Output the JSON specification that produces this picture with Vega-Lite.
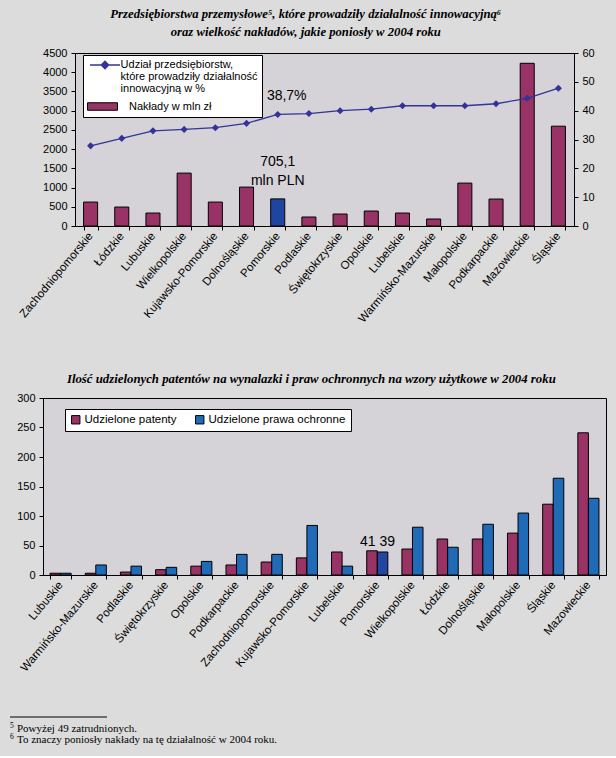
{
  "$schema": "https://vega.github.io/schema/vega-lite/v6.json",
  "background": "#dcdcdc",
  "padding": {"left": 9, "top": 7, "right": 10, "bottom": 8},
  "bounds": "flush",
  "center": true,
  "spacing": 172,
  "resolve": {"scale": {"color": "independent"}, "legend": {"color": "independent"}},
  "config": {
    "font": "Liberation Sans",
    "view": {"fill": "#d5d3d8", "stroke": "#000000", "strokeWidth": 1},
    "axis": {"labelFont": "Liberation Sans", "labelFontSize": 11, "labelColor": "#000000", "domainColor": "#000000", "tickColor": "#000000", "tickSize": 4, "labelPadding": 4, "grid": false, "title": null},
    "axisX": {"labelFontSize": 11.5, "labelAngle": -50},
    "title": {"font": "Liberation Serif", "fontStyle": "italic", "fontWeight": "bold", "fontSize": 12.7, "color": "#000000"},
    "legend": {"labelFont": "Liberation Sans", "labelColor": "#000000", "labelLimit": 400}
  },
  "vconcat": [
    {
      "title": {"text": ["Przedsiębiorstwa przemysłowe⁵, które prowadziły działalność innowacyjną⁶", "oraz wielkość nakładów, jakie poniosły w 2004 roku"], "lineHeight": 18, "frame": "bounds", "anchor": "middle", "offset": 8},
      "width": 499,
      "height": 173,
      "data": {"values": [
        {"region": "Zachodniopomorskie", "naklady": 623, "udzial": 27.8},
        {"region": "Łódzkie", "naklady": 493, "udzial": 30.4},
        {"region": "Lubuskie", "naklady": 337, "udzial": 33.0},
        {"region": "Wielkopolskie", "naklady": 1376, "udzial": 33.5},
        {"region": "Kujawsko-Pomorskie", "naklady": 623, "udzial": 34.1},
        {"region": "Dolnośląskie", "naklady": 1012, "udzial": 35.6},
        {"region": "Pomorskie", "naklady": 705.1, "udzial": 38.7, "barNote": "705,1|mln PLN", "lineNote": "38,7%"},
        {"region": "Podlaskie", "naklady": 234, "udzial": 39.0},
        {"region": "Świętokrzyskie", "naklady": 311, "udzial": 40.0},
        {"region": "Opolskie", "naklady": 389, "udzial": 40.5},
        {"region": "Lubelskie", "naklady": 337, "udzial": 41.7},
        {"region": "Warmińsko-Mazurskie", "naklady": 182, "udzial": 41.7},
        {"region": "Małopolskie", "naklady": 1116, "udzial": 41.7},
        {"region": "Podkarpackie", "naklady": 701, "udzial": 42.4},
        {"region": "Mazowieckie", "naklady": 4232, "udzial": 44.3},
        {"region": "Śląskie", "naklady": 2596, "udzial": 47.8}
      ]},
      "encoding": {
        "x": {"field": "region", "type": "nominal", "sort": null, "scale": {"paddingInner": 0.55, "paddingOuter": 0.275}, "axis": {"tickBand": "extent", "title": null}}
      },
      "layer": [
        {
          "mark": {"type": "bar", "stroke": "#000000", "strokeWidth": 1},
          "encoding": {
            "y": {"field": "naklady", "type": "quantitative", "scale": {"domain": [0, 4500]}, "axis": {"orient": "left", "format": "d", "values": [0, 500, 1000, 1500, 2000, 2500, 3000, 3500, 4000, 4500]}},
            "color": {
              "condition": {"test": "datum.region === 'Pomorskie'", "value": "#1e46a0"},
              "datum": "Nakłady w mln zł",
              "type": "nominal",
              "scale": {"domain": ["Nakłady w mln zł"], "range": ["#993366"]},
              "legend": {
                "orient": "none", "legendX": 8, "legendY": 2,
                "title": ["\u200b\u00a0\u00a0\u00a0\u00a0\u00a0\u00a0\u00a0\u00a0\u00a0\u00a0\u00a0Udział przedsiębiorstw,", "\u200b\u00a0\u00a0\u00a0\u00a0\u00a0\u00a0\u00a0\u00a0\u00a0\u00a0\u00a0które prowadziły działalność", "\u200b\u00a0\u00a0\u00a0\u00a0\u00a0\u00a0\u00a0\u00a0\u00a0\u00a0\u00a0innowacyjną w %"],
                "titleFont": "Liberation Sans", "titleFontWeight": "normal", "titleFontSize": 11, "titleColor": "#000000",
                "titleLineHeight": 12, "titleBaseline": "top", "titleAlign": "left", "titleAnchor": "start", "titleLimit": 400, "titlePadding": 7,
                "fillColor": "#ffffff", "strokeColor": "#000000", "padding": 4, "cornerRadius": 0,
                "labelFontSize": 11, "symbolSize": 100, "symbolOffset": 10, "labelOffset": 21,
                "symbolType": "M-3,-0.75H3V0.75H-3Z",
                "symbolStrokeColor": "#000000", "symbolStrokeWidth": 1, "symbolOpacity": 1
              }
            }
          }
        },
        {
          "transform": [{"filter": "isValid(datum.barNote)"}],
          "mark": {"type": "text", "fontSize": 14, "baseline": "bottom", "dy": -30, "lineBreak": "|", "lineHeight": 19, "color": "#000000"},
          "encoding": {
            "y": {"field": "naklady", "type": "quantitative", "scale": {"domain": [0, 4500]}, "axis": null},
            "text": {"field": "barNote"}
          }
        },
        {
          "mark": {"type": "line", "strokeWidth": 1.3, "point": {"shape": "diamond", "size": 50, "filled": true}},
          "encoding": {
            "y": {"field": "udzial", "type": "quantitative", "scale": {"domain": [0, 60]}, "axis": {"orient": "right", "values": [0, 10, 20, 30, 40, 50, 60]}},
            "color": {
              "datum": "Udział przedsiębiorstw, które prowadziły działalność innowacyjną w %",
              "type": "nominal",
              "scale": {"domain": ["Udział przedsiębiorstw, które prowadziły działalność innowacyjną w %"], "range": ["#333399"]},
              "legend": {
                "orient": "none", "legendX": 14, "legendY": 6, "title": null,
                "padding": 0, "labelExpr": "''", "labelFontSize": 11, "labelOffset": 0,
                "symbolType": "M-3,0H3M-0.75,0L0,-0.75L0.75,0L0,0.75Z", "symbolSize": 100, "symbolOffset": 10,
                "symbolStrokeColor": "#333399", "symbolFillColor": "#333399", "symbolStrokeWidth": 1.3, "symbolOpacity": 1
              }
            }
          }
        },
        {
          "transform": [{"filter": "isValid(datum.lineNote)"}],
          "mark": {"type": "text", "fontSize": 14, "baseline": "middle", "dy": -18, "dx": 9, "color": "#000000"},
          "encoding": {
            "y": {"field": "udzial", "type": "quantitative", "scale": {"domain": [0, 60]}, "axis": null},
            "text": {"field": "lineNote"}
          }
        }
      ],
      "resolve": {"scale": {"y": "independent", "color": "independent"}}
    },
    {
      "title": {"text": "Ilość udzielonych patentów na wynalazki i praw ochronnych na wzory użytkowe w 2004 roku", "frame": "bounds", "anchor": "middle", "offset": 6, "fontSize": 12.8},
      "width": 563,
      "height": 177,
      "data": {"values": [
        {"region": "Lubuskie", "series": "Udzielone patenty", "value": 3},
        {"region": "Lubuskie", "series": "Udzielone prawa ochronne", "value": 3},
        {"region": "Warmińsko-Mazurskie", "series": "Udzielone patenty", "value": 3},
        {"region": "Warmińsko-Mazurskie", "series": "Udzielone prawa ochronne", "value": 17},
        {"region": "Podlaskie", "series": "Udzielone patenty", "value": 5},
        {"region": "Podlaskie", "series": "Udzielone prawa ochronne", "value": 15},
        {"region": "Świętokrzyskie", "series": "Udzielone patenty", "value": 9},
        {"region": "Świętokrzyskie", "series": "Udzielone prawa ochronne", "value": 13},
        {"region": "Opolskie", "series": "Udzielone patenty", "value": 15},
        {"region": "Opolskie", "series": "Udzielone prawa ochronne", "value": 23},
        {"region": "Podkarpackie", "series": "Udzielone patenty", "value": 17},
        {"region": "Podkarpackie", "series": "Udzielone prawa ochronne", "value": 35},
        {"region": "Zachodniopomorskie", "series": "Udzielone patenty", "value": 22},
        {"region": "Zachodniopomorskie", "series": "Udzielone prawa ochronne", "value": 35},
        {"region": "Kujawsko-Pomorskie", "series": "Udzielone patenty", "value": 29},
        {"region": "Kujawsko-Pomorskie", "series": "Udzielone prawa ochronne", "value": 84},
        {"region": "Lubelskie", "series": "Udzielone patenty", "value": 39},
        {"region": "Lubelskie", "series": "Udzielone prawa ochronne", "value": 15},
        {"region": "Pomorskie", "series": "Udzielone patenty", "value": 41},
        {"region": "Pomorskie", "series": "Udzielone prawa ochronne", "value": 39},
        {"region": "Wielkopolskie", "series": "Udzielone patenty", "value": 44},
        {"region": "Wielkopolskie", "series": "Udzielone prawa ochronne", "value": 81},
        {"region": "Łódzkie", "series": "Udzielone patenty", "value": 61},
        {"region": "Łódzkie", "series": "Udzielone prawa ochronne", "value": 47},
        {"region": "Dolnośląskie", "series": "Udzielone patenty", "value": 61},
        {"region": "Dolnośląskie", "series": "Udzielone prawa ochronne", "value": 86},
        {"region": "Małopolskie", "series": "Udzielone patenty", "value": 71},
        {"region": "Małopolskie", "series": "Udzielone prawa ochronne", "value": 105},
        {"region": "Śląskie", "series": "Udzielone patenty", "value": 120},
        {"region": "Śląskie", "series": "Udzielone prawa ochronne", "value": 164},
        {"region": "Mazowieckie", "series": "Udzielone patenty", "value": 241},
        {"region": "Mazowieckie", "series": "Udzielone prawa ochronne", "value": 130}
      ]},
      "encoding": {
        "x": {"field": "region", "type": "nominal", "sort": null, "scale": {"paddingInner": 0.4, "paddingOuter": 0.2}, "axis": {"tickBand": "extent", "title": null}},
        "xOffset": {"field": "series", "type": "nominal", "sort": null, "scale": {"paddingInner": 0, "paddingOuter": 0}},
        "y": {"field": "value", "type": "quantitative", "scale": {"domain": [0, 300]}, "axis": {"values": [0, 50, 100, 150, 200, 250, 300]}}
      },
      "layer": [
        {
          "mark": {"type": "bar", "stroke": "#000000", "strokeWidth": 1},
          "encoding": {
            "color": {
              "condition": {"test": "datum.region === 'Pomorskie' && datum.series === 'Udzielone prawa ochronne'", "value": "#2246a2"},
              "field": "series", "type": "nominal",
              "scale": {"domain": ["Udzielone patenty", "Udzielone prawa ochronne"], "range": ["#993366", "#1f6bb7"]},
              "legend": {
                "orient": "none", "legendX": 22, "legendY": 11, "direction": "horizontal", "title": null,
                "fillColor": "#ffffff", "strokeColor": "#000000", "padding": 5, "cornerRadius": 0,
                "labelFontSize": 11.5, "symbolType": "square", "symbolSize": 70, "columnPadding": 16, "labelOffset": 3,
                "symbolStrokeColor": "#000000", "symbolStrokeWidth": 1, "symbolOpacity": 1
              }
            }
          }
        },
        {
          "transform": [{"filter": "datum.region === 'Pomorskie' && datum.series === 'Udzielone patenty'"}],
          "mark": {"type": "text", "fontSize": 14, "baseline": "bottom", "align": "right", "dx": 3.5, "dy": -2, "color": "#000000"},
          "encoding": {"text": {"field": "value", "type": "quantitative"}}
        },
        {
          "transform": [{"filter": "datum.region === 'Pomorskie' && datum.series === 'Udzielone prawa ochronne'"}],
          "mark": {"type": "text", "fontSize": 14, "baseline": "bottom", "align": "left", "dx": -3, "dy": -3, "color": "#000000"},
          "encoding": {"text": {"field": "value", "type": "quantitative"}}
        }
      ]
    },
    {
      "width": 563,
      "height": 1,
      "view": {"fill": null, "stroke": null},
      "data": {"values": [
        {"nr": "5", "note": "Powyżej 49 zatrudnionych.", "line": 1},
        {"nr": "6", "note": "To znaczy poniosły nakłady na tę działalność w 2004 roku.", "line": 2}
      ]},
      "encoding": {
        "y": {"field": "line", "type": "ordinal", "scale": {"type": "point", "range": [-18.3, -7.3], "padding": 0}, "axis": null}
      },
      "layer": [
        {
          "transform": [{"filter": "datum.line === 1"}],
          "mark": {"type": "rule", "color": "#000000", "strokeWidth": 1},
          "encoding": {"x": {"value": -33}, "x2": {"value": 64}, "y": {"value": -30}}
        },
        {
          "mark": {"type": "text", "align": "left", "baseline": "middle", "font": "Liberation Serif", "fontSize": 11, "color": "#000000"},
          "encoding": {"x": {"value": -26}, "text": {"field": "note"}}
        },
        {
          "mark": {"type": "text", "align": "left", "baseline": "middle", "font": "Liberation Serif", "fontSize": 7.5, "dy": -3, "color": "#000000"},
          "encoding": {"x": {"value": -33}, "text": {"field": "nr"}}
        }
      ]
    }
  ]
}
